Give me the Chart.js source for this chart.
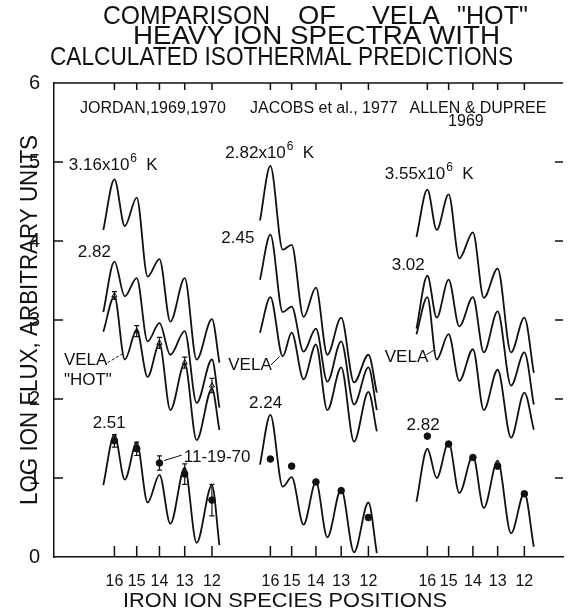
<!DOCTYPE html>
<html>
<head>
<meta charset="utf-8">
<script src="https://cdn.jsdelivr.net/npm/chart.js@4.4.1/dist/chart.umd.min.js"></script>
<style>
  html, body { margin: 0; padding: 0; background: #fff; }
  #wrap { width: 568px; height: 614px; }
</style>
</head>
<body>
<div id="wrap"><canvas id="chart" width="568" height="614"></canvas></div>
<script>
// ---- values ----
const SPECIES = ['16', '15', '14', '13', '12'];

// species positions in each panel, x axis units (0..100 across the frame)
const jordanTicks = [11.87, 16.25, 20.72, 25.68, 31.03];
const jacobsTicks = [42.51, 46.69, 51.46, 56.42, 61.77];
const allenTicks  = [73.35, 77.53, 82.30, 87.16, 92.41];

// turning points of the predicted curves: start, peak 16, dip, peak 15, dip, 14, dip, 13, dip, 12, end
const jordanX = [9.69, 11.87, 13.91, 16.25, 18.39, 20.72, 22.86, 25.68, 28.02, 31.03, 32.49];
const jacobsX = [40.47, 42.51, 44.94, 46.69, 49.03, 51.46, 53.70, 56.42, 58.95, 61.77, 63.42];
const allenX  = [71.21, 73.35, 75.19, 77.53, 79.63, 82.30, 84.44, 87.16, 89.79, 92.41, 94.26];

// log ion flux at those turning points
const jordan316  = [4.14, 4.78, 4.19, 4.55, 3.55, 3.77, 2.98, 3.53, 2.50, 3.01, 2.46];
const jordan282  = [3.10, 3.74, 3.30, 3.53, 2.73, 2.96, 2.56, 2.86, 1.95, 2.50, 1.89];
const jordanVela = [2.85, 3.30, 2.50, 2.87, 2.28, 2.70, 1.86, 2.45, 1.48, 2.13, 1.61];
const jordan251  = [0.91, 1.55, 0.98, 1.45, 0.69, 1.04, 0.42, 1.13, 0.18, 0.91, 0.15];

const jacobs282  = [4.26, 4.95, 3.89, 3.95, 3.04, 3.41, 2.56, 3.03, 2.21, 2.56, 2.08];
const jacobs245  = [3.51, 4.08, 3.10, 3.17, 2.60, 2.89, 2.22, 2.73, 1.93, 2.40, 1.86];
const jacobsVela = [2.84, 3.29, 2.54, 2.84, 2.25, 2.69, 1.86, 2.40, 1.46, 2.09, 1.59];
const jacobs224  = [1.17, 1.80, 0.89, 1.01, 0.41, 0.95, 0.25, 0.86, 0.06, 0.69, 0.05];

const allen355  = [4.05, 4.65, 4.14, 4.59, 3.78, 4.11, 3.28, 3.65, 2.59, 3.03, 2.33];
const allen302  = [2.89, 3.56, 3.03, 3.51, 2.92, 3.29, 2.59, 3.11, 2.17, 2.59, 1.93];
const allenVela = [2.82, 3.29, 2.50, 2.82, 2.23, 2.63, 1.86, 2.37, 1.51, 2.08, 1.61];
const allen282  = [0.70, 1.37, 1.00, 1.45, 0.81, 1.28, 0.62, 1.22, 0.30, 0.81, 0.13];

// measured abundances
const velaHot      = [3.31, 2.86, 2.71, 2.46, 2.17];
const velaHotErr   = [0.05, 0.07, 0.07, 0.07, 0.09];
const obs111970    = [1.47, 1.37, 1.19, 1.05, 0.72];
const obs111970Err = [0.08, 0.085, 0.09, 0.13, 0.2];
const obsJacobs    = [1.24, 1.15, 0.95, 0.84, 0.50];
const obsAllen     = [1.53, 1.43, 1.26, 1.15, 0.80];

// ---- chart ----
const FONT = '"Liberation Sans", "DejaVu Sans", Arial, sans-serif';
const INK = '#111';
const allTicks = jordanTicks.concat(jacobsTicks, allenTicks);
const allTickLabels = SPECIES.concat(SPECIES, SPECIES);

function pts(xs, ys) {
    return xs.map((x, i) => ({x: x, y: ys[i]}));
}

function curve(xs, ys) {
    return {
        data: pts(xs, ys),
        borderColor: INK,
        borderWidth: 1.8,
        pointRadius: 0,
        cubicInterpolationMode: 'monotone',
        fill: false
    };
}

function marks(xs, ys, style, errs) {
    return {
        data: pts(xs, ys),
        showLine: false,
        pointStyle: style,
        pointRadius: style === 'triangle' ? 3 : 3.3,
        pointBackgroundColor: style === 'triangle' ? '#fff' : INK,
        pointBorderColor: INK,
        pointBorderWidth: 1,
        errorBars: errs
    };
}

// text placed in axis units
const notes = [
    ['2.82', 4.67, 3.80], ['VELA', 1.95, 2.43], ['"HOT"', 1.95, 2.18], ['2.51', 7.59, 1.63],
    ['11-19-70', 25.49, 1.20], ['2.45', 32.88, 3.97], ['VELA', 34.24, 2.37], ['2.24', 38.33, 1.89],
    ['3.02', 66.34, 3.63], ['VELA', 64.98, 2.47], ['2.82', 69.26, 1.61]
];
const temps = [['3.16', 2.92, 4.90], ['2.82', 33.66, 5.05], ['3.55', 64.98, 4.78]];
// [x1, y1, x2, y2, dashed]
const leaders = [
    [10.51, 2.46, 13.42, 2.57, true], [42.61, 2.43, 44.36, 2.54, false],
    [73.15, 2.56, 74.71, 2.62, false], [21.6, 1.22, 25.1, 1.29, false]
];
const headers = [
    ['JORDAN,1969,1970', 5.1, 5.62], ['JACOBS et al., 1977', 38.52, 5.62],
    ['ALLEN & DUPREE', 69.84, 5.62], ['1969', 77.43, 5.46]
];

function fitText(ctx, text, left, base, width, size) {
    ctx.font = size + 'px ' + FONT;
    const w = ctx.measureText(text).width;
    ctx.save();
    ctx.translate(left, base);
    ctx.scale(width / w, 1);
    ctx.textAlign = 'left';
    ctx.textBaseline = 'alphabetic';
    ctx.fillText(text, 0, 0);
    ctx.restore();
}

const decor = {
    id: 'decor',
    afterDatasetsDraw(chart) {
        const ctx = chart.ctx;
        const y = chart.scales.y;
        chart.data.datasets.forEach((ds, i) => {
            if (!ds.errorBars) return;
            const meta = chart.getDatasetMeta(i);
            ctx.save();
            ctx.strokeStyle = INK;
            ctx.lineWidth = 1.2;
            ds.data.forEach((p, j) => {
                const px = meta.data[j].x;
                const y1 = y.getPixelForValue(p.y + ds.errorBars[j]);
                const y2 = y.getPixelForValue(p.y - ds.errorBars[j]);
                ctx.beginPath();
                ctx.moveTo(px, y1); ctx.lineTo(px, y2);
                ctx.moveTo(px - 2.5, y1); ctx.lineTo(px + 2.5, y1);
                ctx.moveTo(px - 2.5, y2); ctx.lineTo(px + 2.5, y2);
                ctx.stroke();
            });
            ctx.restore();
        });
    },
    afterDraw(chart) {
        const ctx = chart.ctx;
        const x = chart.scales.x, y = chart.scales.y;
        const a = chart.chartArea;
        ctx.save();
        ctx.strokeStyle = INK;
        ctx.fillStyle = INK;
        ctx.lineWidth = 1.5;

        // top frame line and the inner tick marks
        ctx.beginPath();
        ctx.moveTo(a.left, a.top); ctx.lineTo(a.right, a.top);
        allTicks.forEach(v => {
            const px = x.getPixelForValue(v);
            ctx.moveTo(px, a.top); ctx.lineTo(px, a.top + 7);
            ctx.moveTo(px, a.bottom); ctx.lineTo(px, a.bottom - 11);
        });
        for (let k = 1; k <= 5; k++) {
            const py = y.getPixelForValue(k);
            ctx.moveTo(a.left, py); ctx.lineTo(a.left + 9, py);
            ctx.moveTo(a.right, py); ctx.lineTo(a.right - 8, py);
        }
        ctx.stroke();

        // leader lines
        ctx.lineWidth = 1;
        leaders.forEach(l => {
            ctx.setLineDash(l[4] ? [3, 2] : []);
            ctx.beginPath();
            ctx.moveTo(x.getPixelForValue(l[0]), y.getPixelForValue(l[1]));
            ctx.lineTo(x.getPixelForValue(l[2]), y.getPixelForValue(l[3]));
            ctx.stroke();
        });
        ctx.setLineDash([]);

        ctx.textAlign = 'left';
        ctx.textBaseline = 'alphabetic';

        ctx.font = '16px ' + FONT;
        headers.forEach(h => ctx.fillText(h[0], x.getPixelForValue(h[1]), y.getPixelForValue(h[2])));

        ctx.font = '17px ' + FONT;
        notes.forEach(n => ctx.fillText(n[0], x.getPixelForValue(n[1]), y.getPixelForValue(n[2])));

        temps.forEach(t => {
            const px = x.getPixelForValue(t[1]), py = y.getPixelForValue(t[2]);
            ctx.font = '17px ' + FONT;
            const main = t[0] + 'x10';
            ctx.fillText(main, px, py);
            const w = ctx.measureText(main).width;
            ctx.fillText('K', px + w + 17, py);
            ctx.font = '12px ' + FONT;
            ctx.fillText('6', px + w + 1, py - 8);
        });

        // title
        fitText(ctx, 'COMPARISON', 103, 24, 167, 25);
        fitText(ctx, 'OF', 298, 24, 38, 25);
        fitText(ctx, 'VELA', 372, 24, 68, 25);
        fitText(ctx, '"HOT"', 457, 24, 71, 25);
        fitText(ctx, 'HEAVY ION SPECTRA WITH', 133, 44, 367, 25);
        fitText(ctx, 'CALCULATED ISOTHERMAL PREDICTIONS', 50, 65, 463, 25);

        // axis titles
        fitText(ctx, 'IRON ION SPECIES POSITIONS', 123, 607, 324, 21);
        ctx.save();
        ctx.translate(37, 320);
        ctx.rotate(-Math.PI / 2);
        fitText(ctx, 'LOG ION FLUX, ARBITRARY UNITS', -185, 0, 370, 23);
        ctx.restore();

        ctx.restore();
    }
};

new Chart(document.getElementById('chart'), {
    type: 'line',
    data: {
        datasets: [
            curve(jordanX, jordan316), curve(jordanX, jordan282),
            curve(jordanX, jordanVela), curve(jordanX, jordan251),
            curve(jacobsX, jacobs282), curve(jacobsX, jacobs245),
            curve(jacobsX, jacobsVela), curve(jacobsX, jacobs224),
            curve(allenX, allen355), curve(allenX, allen302),
            curve(allenX, allenVela), curve(allenX, allen282),
            marks(jordanTicks, velaHot, 'triangle', velaHotErr),
            marks(jordanTicks, obs111970, 'circle', obs111970Err),
            marks(jacobsTicks, obsJacobs, 'circle'),
            marks(allenTicks, obsAllen, 'circle')
        ]
    },
    options: {
        responsive: false,
        animation: false,
        devicePixelRatio: 1,
        layout: { padding: { top: 83, left: 0, right: 0, bottom: 0 } },
        plugins: {
            legend: { display: false },
            tooltip: { enabled: false }
        },
        scales: {
            x: {
                type: 'linear',
                min: 0,
                max: 100,
                afterBuildTicks: s => { s.ticks = allTicks.map(v => ({value: v})); },
                afterFit: s => { s.height = 57; },
                grid: { display: false },
                border: { display: true, color: INK, width: 1.5 },
                ticks: {
                    autoSkip: false,
                    maxRotation: 0,
                    padding: 7,
                    color: INK,
                    font: { family: FONT, size: 16 },
                    callback: (v, i) => allTickLabels[i]
                }
            },
            y: {
                min: 0,
                max: 6,
                afterFit: s => { s.width = 54; },
                grid: { display: false },
                border: { display: true, color: INK, width: 1.5 },
                ticks: {
                    stepSize: 1,
                    padding: 6,
                    color: INK,
                    font: { family: FONT, size: 20 }
                }
            }
        }
    },
    plugins: [decor]
});
</script>
</body>
</html>
